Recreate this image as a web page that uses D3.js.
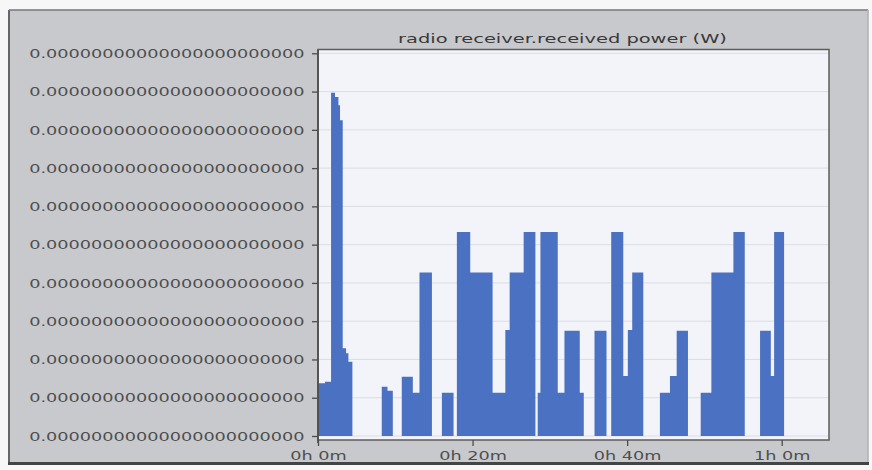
<!DOCTYPE html>
<html>
<head>
<meta charset="utf-8">
<script src="https://cdn.jsdelivr.net/npm/d3@7"></script>
<style>
  html, body { margin: 0; padding: 0; background: #f7f7f7; }
  svg { display: block; }
  text { font-family: "DejaVu Sans", Verdana, sans-serif; }
</style>
</head>
<body>
<svg id="chart" width="872" height="470"></svg>
<script>
// Received power of the radio receiver, stepwise over simulation time.
// Step start times (minutes) and the power held from that time (W).
const stepTimes = [0, 0.91, 1.69, 2.20, 2.64, 2.85, 3.20, 3.63, 3.93, 4.45,
  8.25, 8.99, 9.68, 10.84, 12.27, 13.13, 14.74, 16.03, 17.54, 17.97,
  19.70, 22.59, 24.24, 24.80, 26.61, 28.13, 28.43, 28.78, 31.02, 31.89,
  33.87, 34.39, 35.78, 37.33, 37.94, 39.50, 40.09, 40.66, 42.09, 44.24,
  45.54, 46.41, 47.87, 49.52, 50.90, 53.75, 55.22, 57.20, 58.59, 59.02, 60.31];
const receivedPower = [1.38e-25, 1.42e-25, 8.97e-25, 8.86e-25, 8.64e-25, 8.25e-25, 2.29e-25, 2.16e-25, 1.94e-25, 0,
  1.29e-25, 1.18e-25, 0, 1.55e-25, 1.13e-25, 4.27e-25, 0, 1.13e-25, 0, 5.33e-25,
  4.27e-25, 1.13e-25, 2.77e-25, 4.27e-25, 5.33e-25, 0, 1.13e-25, 5.33e-25, 1.13e-25, 2.75e-25,
  1.13e-25, 0, 2.75e-25, 0, 5.33e-25, 1.57e-25, 2.77e-25, 4.27e-25, 0, 1.13e-25,
  1.57e-25, 2.75e-25, 0, 1.13e-25, 4.27e-25, 5.33e-25, 0, 2.75e-25, 1.57e-25, 5.33e-25, 5.33e-25];

const yTickValues = d3.range(0, 11).map(i => i * 1e-25);
const xTickValues = [0, 20, 40, 60];
const xTickLabels = ["0h 0m", "0h 20m", "0h 40m", "1h 0m"];
const chartTitle = "radio receiver.received power (W)";

const plot = { left: 318, right: 829, top: 49.5, bottom: 440 };
const textStretch = 1.36;

const svg = d3.select("#chart");

// outer panel
svg.append("rect").attr("x", 9).attr("y", 10).attr("width", 859).attr("height", 452)
  .attr("fill", "#c8c9cd");
svg.append("line").attr("x1", 9).attr("x2", 9).attr("y1", 10).attr("y2", 463)
  .attr("stroke", "#666").attr("stroke-width", 2);
svg.append("line").attr("x1", 9).attr("x2", 868).attr("y1", 10).attr("y2", 10)
  .attr("stroke", "#777").attr("stroke-width", 1.5);
svg.append("line").attr("x1", 868).attr("x2", 868).attr("y1", 10).attr("y2", 463)
  .attr("stroke", "#b0b1b5").attr("stroke-width", 1.5);
svg.append("line").attr("x1", 8).attr("x2", 869).attr("y1", 463.5).attr("y2", 463.5)
  .attr("stroke", "#444").attr("stroke-width", 3);

// scales
const x = d3.scaleLinear().domain([0, 60]).range([plot.left, 781.7]);
const y = d3.scaleLinear().domain([0, 1e-24]).range([436, 53.3]);

// plot background
svg.append("rect")
  .attr("x", plot.left).attr("y", plot.top)
  .attr("width", plot.right - plot.left).attr("height", plot.bottom - plot.top)
  .attr("fill", "#f3f4fa");

// horizontal grid
svg.append("g").selectAll("line").data(yTickValues).join("line")
  .attr("x1", plot.left).attr("x2", plot.right)
  .attr("y1", d => y(d)).attr("y2", d => y(d))
  .attr("stroke", "#dcdde3").attr("stroke-width", 1);

// power area
const area = d3.area()
  .x((d, i) => x(stepTimes[i]))
  .y0(y(0))
  .y1(d => y(d))
  .curve(d3.curveStepAfter);

svg.append("path")
  .datum(receivedPower)
  .attr("d", area)
  .attr("fill", "#4a71c2");

// plot frame
svg.append("rect")
  .attr("x", plot.left).attr("y", plot.top)
  .attr("width", plot.right - plot.left).attr("height", plot.bottom - plot.top)
  .attr("fill", "none").attr("stroke", "#5c5c5c").attr("stroke-width", 1.5);
svg.append("line").attr("x1", plot.left).attr("x2", plot.left)
  .attr("y1", plot.top).attr("y2", 443)
  .attr("stroke", "#4c4c4c").attr("stroke-width", 1.6);

// y axis
const yAxis = svg.append("g")
  .attr("transform", `translate(${plot.left},0)`)
  .call(d3.axisLeft(y).tickValues(yTickValues).tickSize(6).tickPadding(0)
    .tickFormat(v => v.toFixed(23)));
yAxis.select(".domain").remove();
yAxis.selectAll(".tick line").attr("stroke", "#4c4c4c").attr("stroke-width", 1.3);
yAxis.selectAll(".tick text")
  .attr("x", -13.5 / textStretch)
  .attr("font-size", 13)
  .attr("fill", "#4e4e4e")
  .style("font-family", '"DejaVu Sans", Verdana, sans-serif')
  .attr("transform", `scale(${textStretch},1)`);

// x axis
const xAxis = svg.append("g")
  .attr("transform", `translate(0,${plot.bottom})`)
  .call(d3.axisBottom(x).tickValues(xTickValues).tickSize(6).tickPadding(5)
    .tickFormat((d, i) => xTickLabels[i]));
xAxis.select(".domain").remove();
xAxis.selectAll(".tick line").attr("stroke", "#4c4c4c").attr("stroke-width", 1.3);
xAxis.selectAll(".tick text")
  .attr("font-size", 13)
  .attr("fill", "#4e4e4e")
  .style("font-family", '"DejaVu Sans", Verdana, sans-serif')
  .attr("transform", `scale(${textStretch},1)`);

// title, stretched to span the same width as in the chart header
const title = svg.append("text")
  .attr("text-anchor", "middle")
  .attr("font-size", 13)
  .attr("fill", "#3a3a3a")
  .text(chartTitle);
const titleStretch = 329 / title.node().getComputedTextLength();
title.attr("transform", `translate(562.5,43) scale(${titleStretch},1)`);
</script>
</body>
</html>
